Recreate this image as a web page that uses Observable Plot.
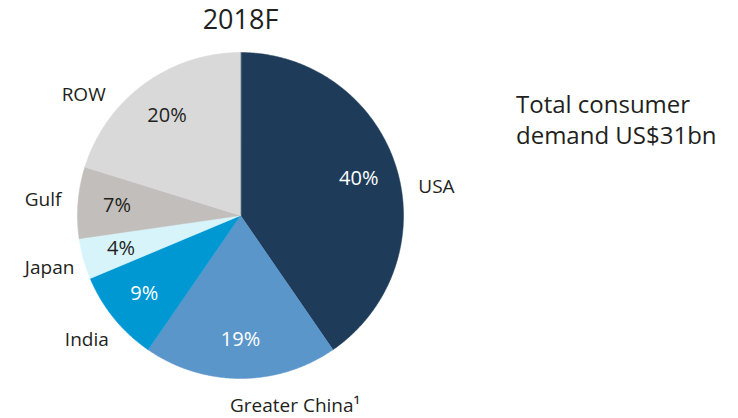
<!DOCTYPE html>
<html><head><meta charset="utf-8">
<script src="https://cdn.jsdelivr.net/npm/d3@7"></script>
<script src="https://cdn.jsdelivr.net/npm/@observablehq/plot@0.6"></script>
<style>body{margin:0;background:#fff} svg{display:block}</style>
</head><body><div id="chart"></div>
<script>
// ---- data ----
const title = "2018F";
const regions = ["USA", "Greater China¹", "India", "Japan", "Gulf", "ROW"];
const shares = [40, 19, 9, 4, 7, 20];
const note = ["Total consumer", "demand US$31bn"];

// ---- styles / layout ----
const colors = ["#1e3c5a", "#5b96cb", "#0098d3", "#d7f4fb", "#c1bebb", "#d9d9d9"];
const darkSlices = new Set(["USA", "Greater China¹", "India"]);
const labelAngleShift = {"USA": 9, "Greater China¹": -16, "ROW": -16}; // degrees
const ink = "#231f20";
const font = "'Open Sans', 'Liberation Sans', sans-serif";

const total = d3.sum(shares);
let cum = 0;
const slices = regions.map((r, i) => {
  const a0 = cum / total * 2 * Math.PI;
  cum += shares[i];
  const a1 = cum / total * 2 * Math.PI;
  return {region: r, value: shares[i], a0, a1, mid: (a0 + a1) / 2};
});
const outline = slices.flatMap(s => {
  const n = Math.max(2, Math.ceil((s.a1 - s.a0) / 0.01));
  const pts = [{region: s.region, x: 0, y: 0}];
  for (let k = 0; k <= n; k++) {
    const a = s.a0 + (s.a1 - s.a0) * k / n;
    pts.push({region: s.region, x: Math.sin(a), y: Math.cos(a)});
  }
  return pts;
});
const outerAngle = d => d.mid + (labelAngleShift[d.region] || 0) * Math.PI / 180;

const plot = Plot.plot({
  width: 738, height: 418,
  marginLeft: 77, marginRight: 335, marginTop: 52, marginBottom: 40,
  x: {domain: [-1, 1], axis: null},
  y: {domain: [-1, 1], axis: null},
  color: {domain: regions, range: colors},
  style: {fontFamily: font, color: ink, background: "#fff"},
  marks: [
    Plot.line(outline, {x: "x", y: "y", z: "region", fill: "region", stroke: "region", strokeWidth: 0.5, curve: "linear-closed"}),
    Plot.text(slices.filter(d => darkSlices.has(d.region)), {
      x: d => 0.76 * Math.sin(d.mid), y: d => 0.76 * Math.cos(d.mid),
      text: d => d.value + "%", fill: "white", fontSize: 20}),
    Plot.text(slices.filter(d => !darkSlices.has(d.region)), {
      x: d => 0.76 * Math.sin(d.mid), y: d => 0.76 * Math.cos(d.mid),
      text: d => d.value + "%", fill: ink, fontSize: 20}),
    Plot.text(slices, {
      x: d => 1.215 * Math.sin(outerAngle(d)), y: d => 1.215 * Math.cos(outerAngle(d)),
      text: "region", fill: ink, fontSize: 19}),
    Plot.text([title], {x: 0, y: 1.2, text: d => d, fill: ink, fontSize: 27}),
    Plot.text([note.join("\n")], {x: 1.69, y: 0.595, text: d => d, textAnchor: "start",
      lineHeight: 1.27, fill: ink, fontSize: 24})
  ]
});
document.getElementById("chart").append(plot);
</script>
</body></html>
